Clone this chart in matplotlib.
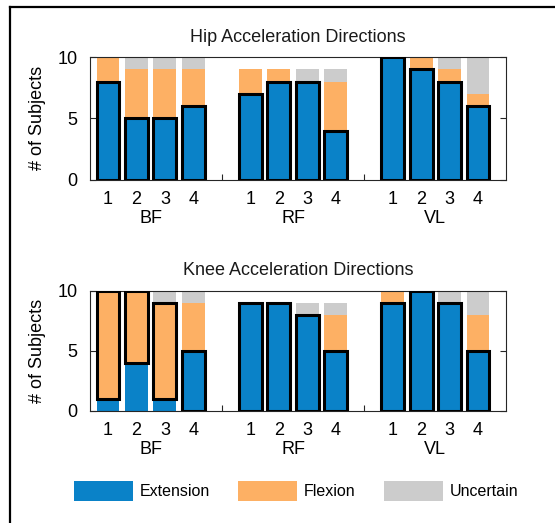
import matplotlib
matplotlib.use("Agg")
import matplotlib.pyplot as plt
from matplotlib.patches import Patch
from matplotlib.transforms import blended_transform_factory
import numpy as np

plt.rcParams['font.family'] = ['Liberation Sans', 'DejaVu Sans']

muscles = ['BF', 'RF', 'VL']
conditions = ['1', '2', '3', '4']
series = ['Extension', 'Flexion', 'Uncertain']
colors = ['#0a82c8', '#fdb064', '#cccccc']

# Hip acceleration directions (counts of subjects), order BF1-4, RF1-4, VL1-4
hip_ext = [8, 5, 5, 6, 7, 8, 8, 4, 10, 9, 8, 6]
hip_flex = [2, 4, 4, 3, 2, 1, 0, 4, 0, 1, 1, 1]
hip_unc = [0, 1, 1, 1, 0, 0, 1, 1, 0, 0, 1, 3]

# Knee acceleration directions
knee_ext = [1, 4, 1, 5, 9, 9, 8, 5, 9, 10, 9, 5]
knee_flex = [9, 6, 8, 4, 0, 0, 0, 3, 1, 0, 0, 3]
knee_unc = [0, 0, 1, 1, 0, 0, 1, 1, 0, 0, 1, 2]

positions = np.array([1, 2, 3, 4, 6, 7, 8, 9, 11, 12, 13, 14])
group_centers = [2.5, 7.5, 12.5]

FS = 13

fig = plt.figure(figsize=(5.55, 5.23), dpi=100)

# frame lines (left and top)
fig.add_artist(plt.Line2D([10/555, 10/555], [0, 1-7/523], transform=fig.transFigure,
                          color='black', lw=1.6))
fig.add_artist(plt.Line2D([10/555, 1], [1-7/523, 1-7/523], transform=fig.transFigure,
                          color='black', lw=1.6))

def draw(ax, ext, flex, unc, title):
    ext = np.array(ext, float); flex = np.array(flex, float); unc = np.array(unc, float)
    stacks = [ext, flex, unc]
    bottoms = [np.zeros_like(ext), ext, ext + flex]
    for vals, bot, c in zip(stacks, bottoms, colors):
        ax.bar(positions, vals, bottom=bot, width=0.8, color=c, edgecolor='none', zorder=2)
    # outline dominant category
    data = np.vstack(stacks)
    bots = np.vstack(bottoms)
    dom = np.argmax(data, axis=0)
    for i, p in enumerate(positions):
        k = dom[i]
        ax.bar(p, data[k, i], bottom=bots[k, i], width=0.8, color=colors[k],
               edgecolor='black', linewidth=2.2, zorder=3)
    ax.set_xlim(0.37, 14.98)
    ax.set_ylim(0, 10)
    ax.set_yticks([0, 5, 10])
    ax.set_xticks(np.arange(1, 15))
    labels = []
    for t in range(1, 15):
        if t in positions:
            labels.append(conditions[list(positions).index(t) % 4])
        else:
            labels.append('')
    ax.set_xticklabels(labels)
    ax.tick_params(direction='in', length=4, width=0.8, color='#262626',
                   labelsize=FS, right=True, top=False)
    ax.tick_params(axis='y', pad=9)
    ax.tick_params(axis='x', pad=8)
    for s in ax.spines.values():
        s.set_color('#262626')
        s.set_linewidth(0.8)
    ax.set_title(title, fontsize=FS, pad=11, color='#1a1a1a')
    ax.set_ylabel('# of Subjects', fontsize=FS, labelpad=8)
    tr = blended_transform_factory(ax.transData, ax.transAxes)
    for gc, m in zip(group_centers, muscles):
        ax.text(gc, -0.32, m, transform=tr, ha='center', va='center', fontsize=FS)

ax1 = fig.add_axes([90/555, 1-179.5/523, 416/555, 122.5/523])
draw(ax1, hip_ext, hip_flex, hip_unc, 'Hip Acceleration Directions')
ax2 = fig.add_axes([90/555, 1-410.7/523, 416/555, 120/523])
draw(ax2, knee_ext, knee_flex, knee_unc, 'Knee Acceleration Directions')

handles = [Patch(facecolor=c, edgecolor='none') for c in colors]
fig.legend(handles, series, loc='center', bbox_to_anchor=(296/555, 1-491/523),
           ncol=3, frameon=False, fontsize=11.5, handlelength=3.7, handleheight=1.55,
           handletextpad=0.4, columnspacing=1.8)

fig.savefig('out.png', dpi=100)
